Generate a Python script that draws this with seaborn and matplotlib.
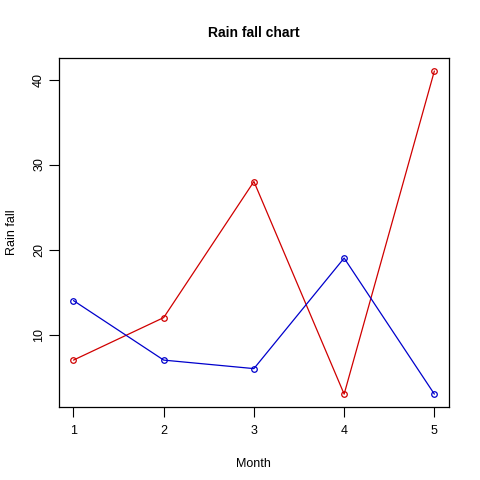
import matplotlib
matplotlib.use("Agg")
import matplotlib.pyplot as plt
import seaborn as sns
import pandas as pd

months = [1, 2, 3, 4, 5]
rain_red = [7, 12, 28, 3, 41]
rain_blue = [14, 7, 6, 19, 3]

df = pd.DataFrame({"Month": months + months,
                   "Rain fall": rain_red + rain_blue,
                   "series": ["red"] * 5 + ["blue"] * 5})

sns.set_style("white")
plt.rcParams["font.family"] = ["Liberation Sans", "DejaVu Sans"]
plt.rcParams["text.color"] = "black"
plt.rcParams["axes.labelcolor"] = "black"

fig = plt.figure(figsize=(4.8, 4.8), dpi=100)
ax = fig.add_axes([0.123, 0.152, 0.812, 0.727])

for name, col in [("red", "#d00000"), ("blue", "#0000cc")]:
    sub = df[df["series"] == name]
    sns.lineplot(data=sub, x="Month", y="Rain fall", ax=ax, color=col,
                 linewidth=0.9, marker="o", markersize=4,
                 markerfacecolor="none", markeredgecolor=col,
                 markeredgewidth=0.9)

ax.set_xlim(0.84, 5.16)
ax.set_ylim(1.48, 42.52)
ax.set_xticks(months)
ax.set_yticks([10, 20, 30, 40])
ax.tick_params(axis="both", direction="out", length=7, width=0.8,
               labelsize=9, colors="black", bottom=True, left=True)
ax.tick_params(axis="x", pad=6)
ax.tick_params(axis="y", pad=3)
for lbl in ax.get_yticklabels():
    lbl.set_rotation(90)
    lbl.set_va("center")
for s in ax.spines.values():
    s.set_visible(True)
    s.set_color("black")
    s.set_linewidth(0.9)
ax.set_xlabel("Month", fontsize=9, color="black")
ax.set_ylabel("Rain fall", fontsize=9, color="black")
ax.xaxis.set_label_coords(0.5, -0.145)
ax.yaxis.set_label_coords(-0.105, 0.5)
ax.set_title("Rain fall chart", fontsize=10, fontweight="bold", y=1.06, pad=0,
             color="black")
ax.grid(False)

fig.savefig("out.png", dpi=100)
